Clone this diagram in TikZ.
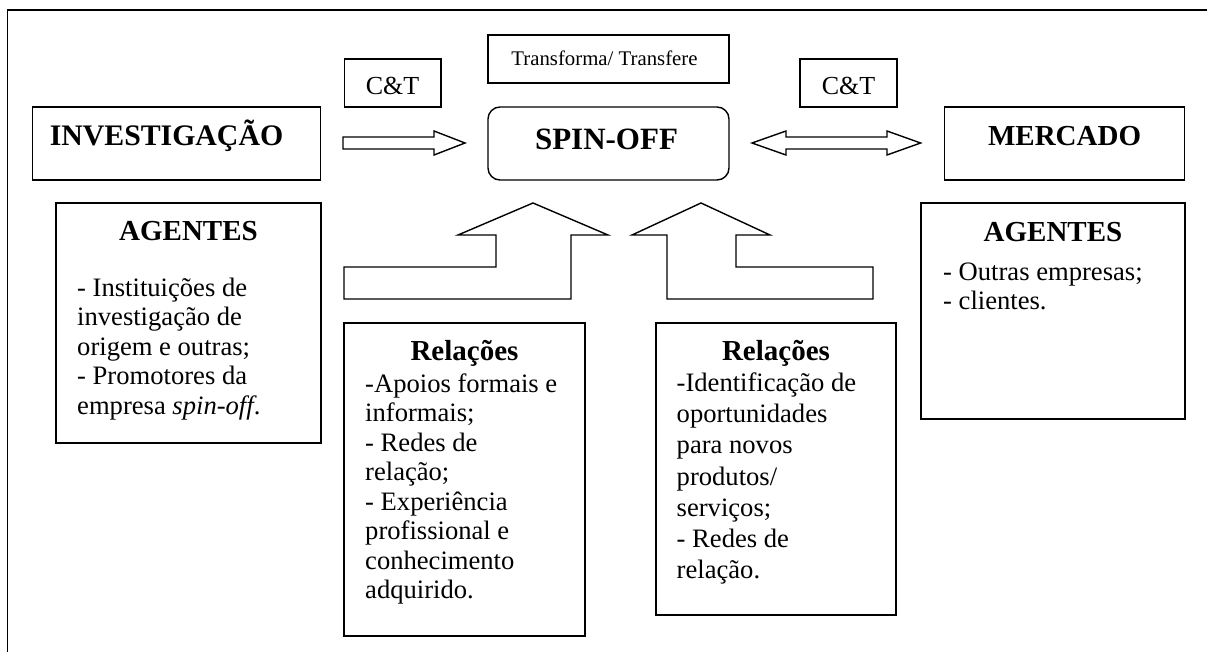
\documentclass[tikz,border=0pt]{standalone}
\usepackage{fontspec}
\setmainfont{Liberation Serif}
\begin{document}
\begin{tikzpicture}[x=1pt,y=-1pt,line join=miter,
  box/.style={draw,line width=1.4pt,inner sep=0pt},
  blk/.style={draw,line width=1.4pt,fill=white},
  headtxt/.style={inner sep=0pt,anchor=base,font=\fontsize{29}{32}\selectfont\bfseries},
  bigtxt/.style={inner sep=0pt,anchor=base,font=\fontsize{31}{34}\selectfont\bfseries},
  smalltxt/.style={inner sep=0pt,anchor=base,font=\fontsize{26}{29}\selectfont},
  tinytxt/.style={inner sep=0pt,anchor=base,font=\fontsize{20.8}{24}\selectfont},
  bodytxt/.style={inner sep=0pt,anchor=north west,align=left,font=\fontsize{26.6}{29.5}\selectfont}]
\useasboundingbox (0,0) rectangle (1207,652);
% frame
\draw[line width=1.8pt] (7.5,660) -- (7.5,10) -- (1215,10);
% top row boxes
\node[box,minimum width=288pt,minimum height=73pt] (inv) at (176.6,143.5) {};
\node[headtxt,font=\fontsize{29.8}{32}\selectfont\bfseries] (invt) at (166.5,146) {INVESTIGAÇÃO};
\node[box,rounded corners=12pt,minimum width=241pt,minimum height=73pt] (spin) at (608.5,143.5) {};
\node[bigtxt] (spint) at (606.5,150) {SPIN-OFF};
\node[box,minimum width=240pt,minimum height=73pt] (merc) at (1064.6,143.5) {};
\node[headtxt] (merct) at (1064.6,146) {MERCADO};
\node[box,minimum width=96.5pt,minimum height=48pt] (ct1) at (392.6,83) {};
\node[smalltxt] (ct1t) at (392.6,95) {C\&T};
\node[box,minimum width=97pt,minimum height=48pt] (ct2) at (848.5,83) {};
\node[smalltxt] (ct2t) at (848.5,95) {C\&T};
\node[box,minimum width=241pt,minimum height=48pt] (tr) at (608.5,59) {};
\node[tinytxt] (trt) at (604.5,66) {Transforma/ Transfere};
% horizontal block arrows
\draw[blk] (343,137) -- (434,137) -- (434,131) -- (465,143) -- (434,155) -- (434,149) -- (343,149) -- cycle;
\draw[blk] (752,143) -- (786,131) -- (786,137) -- (887,137) -- (887,131) -- (920.6,143) -- (887,155) -- (887,149) -- (786,149) -- (786,155) -- cycle;
% bent block arrows
\draw[blk] (344,267) -- (496,267) -- (496,235) -- (458,235) -- (533,203) -- (608,235) -- (571,235) -- (571,299) -- (344,299) -- cycle;
\draw[blk] (667,235) -- (632,235) -- (701,203) -- (770,235) -- (736,235) -- (736,267) -- (873,267) -- (873,299) -- (667,299) -- cycle;
% agents boxes
\node[box,minimum width=265pt,minimum height=240pt] (ag1) at (188.5,323) {};
\node[headtxt] (ag1t) at (188.5,241) {AGENTES};
\node[bodytxt] (ag1b) at (77,275.5) {\strut- Instituições de\\investigação de\\origem e outras;\\- Promotores da\\empresa \textit{spin-off}.};
\node[box,minimum width=264pt,minimum height=216pt] (ag2) at (1053,311) {};
\node[headtxt] (ag2t) at (1053,242) {AGENTES};
\node[bodytxt] (ag2b) at (943,259.5) {\strut- Outras empresas;\\- clientes.};
% relations boxes
\node[box,minimum width=241pt,minimum height=313pt] (rel1) at (464.5,479.5) {};
\node[headtxt] (rel1t) at (464.5,360) {Relações};
\node[bodytxt] (rel1b) at (365,371.5) {\strut-Apoios formais e\\informais;\\- Redes de\\relação;\\- Experiência\\profissional e\\conhecimento\\adquirido.};
\node[box,minimum width=240pt,minimum height=292pt] (rel2) at (776,469) {};
\node[headtxt] (rel2t) at (776,360.5) {Relações};
\node[bodytxt,font=\fontsize{26.6}{31.3}\selectfont] (rel2b) at (676.5,369) {\strut-Identificação de\\oportunidades\\para novos\\produtos/\\serviços;\\- Redes de\\relação.};
\end{tikzpicture}
\end{document}
